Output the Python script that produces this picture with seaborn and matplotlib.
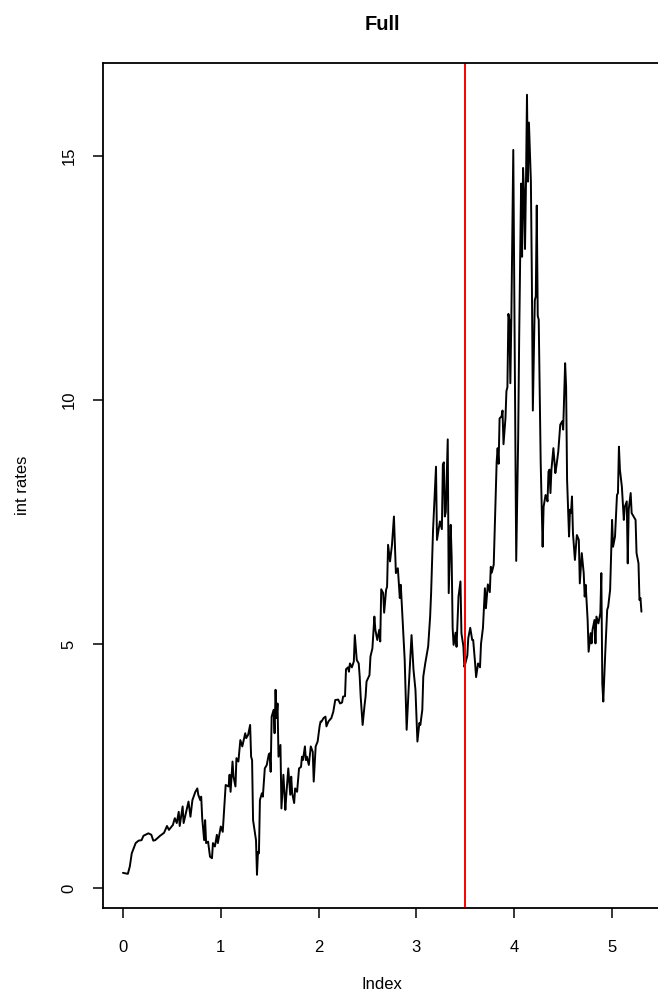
import matplotlib
matplotlib.use("Agg")
import matplotlib.pyplot as plt
import seaborn as sns

# values
idx = [0.00, 0.05, 0.07, 0.09, 0.13, 0.16, 0.19, 0.21, 0.26, 0.29, 0.31, 0.33, 0.38, 0.42, 0.45,
       0.47, 0.49, 0.51, 0.53, 0.55, 0.57, 0.58, 0.61, 0.62, 0.65, 0.67, 0.69, 0.71, 0.74, 0.76,
       0.77, 0.79, 0.80, 0.81, 0.83, 0.84, 0.85, 0.87, 0.89, 0.91, 0.92, 0.94, 0.96, 0.97, 1.00,
       1.02, 1.05, 1.08, 1.09, 1.10, 1.12, 1.13, 1.15, 1.16, 1.18, 1.20, 1.22, 1.25, 1.26, 1.28,
       1.30, 1.31, 1.32, 1.33, 1.35, 1.36, 1.37, 1.38, 1.39, 1.40, 1.42, 1.43, 1.45, 1.47, 1.49,
       1.50, 1.51, 1.52, 1.54, 1.55, 1.56, 1.57, 1.58, 1.59, 1.61, 1.62, 1.64, 1.66, 1.67, 1.69,
       1.71, 1.72, 1.73, 1.75, 1.76, 1.78, 1.80, 1.82, 1.83, 1.84, 1.86, 1.87, 1.88, 1.90, 1.92,
       1.94, 1.95, 1.97, 1.99, 2.01, 2.02, 2.03, 2.05, 2.07, 2.08, 2.10, 2.13, 2.15, 2.17, 2.20,
       2.22, 2.24, 2.25, 2.27, 2.28, 2.30, 2.31, 2.32, 2.34, 2.36, 2.37, 2.39, 2.41, 2.42, 2.43,
       2.45, 2.47, 2.48, 2.49, 2.52, 2.53, 2.55, 2.57, 2.58, 2.60, 2.62, 2.63, 2.64, 2.66, 2.67,
       2.69, 2.70, 2.71, 2.73, 2.75, 2.77, 2.79, 2.81, 2.83, 2.84, 2.86, 2.88, 2.90, 2.92, 2.95,
       2.97, 2.99, 3.01, 3.03, 3.04, 3.06, 3.07, 3.09, 3.12, 3.14, 3.15, 3.17, 3.20, 3.21, 3.24,
       3.26, 3.27, 3.28, 3.29, 3.30, 3.32, 3.33, 3.35, 3.36, 3.37, 3.38, 3.40, 3.41, 3.43, 3.45,
       3.46, 3.48, 3.49, 3.50, 3.52, 3.53, 3.55, 3.57, 3.58, 3.60, 3.61, 3.63, 3.65, 3.66, 3.68,
       3.70, 3.71, 3.73, 3.75, 3.76, 3.77, 3.79, 3.81, 3.82, 3.83, 3.84, 3.85, 3.87, 3.88, 3.89,
       3.91, 3.92, 3.93, 3.94, 3.95, 3.96, 3.97, 3.99, 4.02, 4.04, 4.05, 4.07, 4.08, 4.09, 4.10,
       4.11, 4.12, 4.13, 4.14, 4.15, 4.17, 4.18, 4.19, 4.21, 4.22, 4.23, 4.24, 4.25, 4.27, 4.29,
       4.30, 4.32, 4.33, 4.34, 4.35, 4.36, 4.37, 4.38, 4.40, 4.42, 4.43, 4.45, 4.47, 4.49, 4.50,
       4.52, 4.53, 4.54, 4.56, 4.57, 4.58, 4.59, 4.60, 4.62, 4.64, 4.66, 4.67, 4.69, 4.71, 4.72,
       4.73, 4.75, 4.76, 4.78, 4.79, 4.80, 4.82, 4.83, 4.84, 4.86, 4.88, 4.89, 4.90, 4.91, 4.93,
       4.95, 4.96, 4.98, 5.00, 5.01, 5.03, 5.05, 5.06, 5.07, 5.08, 5.10, 5.12, 5.13, 5.15, 5.16,
       5.17, 5.19, 5.20, 5.22, 5.24, 5.25, 5.27, 5.28, 5.29, 5.30]
rates = [0.31, 0.29, 0.44, 0.71, 0.92, 0.97, 0.98, 1.07, 1.12, 1.09, 0.97, 0.98, 1.07, 1.13, 1.27,
         1.19, 1.24, 1.29, 1.43, 1.33, 1.56, 1.27, 1.67, 1.33, 1.60, 1.77, 1.46, 1.80, 1.97, 2.04,
         1.91, 1.80, 1.87, 1.43, 0.98, 1.39, 0.92, 0.95, 0.64, 0.61, 0.92, 0.85, 1.09, 0.92, 1.26,
         1.15, 2.11, 2.08, 2.32, 1.97, 2.59, 2.28, 2.08, 2.66, 2.59, 3.03, 2.90, 3.17, 3.07, 3.14,
         3.34, 2.69, 2.62, 1.39, 1.12, 0.98, 0.27, 0.74, 0.71, 1.80, 1.94, 1.87, 2.45, 2.52, 2.73,
         2.76, 2.38, 3.51, 3.65, 3.17, 4.06, 3.48, 3.78, 2.69, 2.93, 1.63, 2.32, 1.60, 1.91, 2.45,
         1.91, 2.28, 1.94, 1.74, 2.04, 1.97, 2.45, 2.48, 2.69, 2.62, 2.90, 2.62, 2.69, 2.52, 2.90,
         2.79, 2.18, 2.90, 3.00, 3.31, 3.41, 3.41, 3.48, 3.51, 3.31, 3.41, 3.48, 3.61, 3.85, 3.86,
         3.78, 3.80, 3.92, 3.93, 4.48, 4.52, 4.43, 4.60, 4.52, 4.64, 5.18, 4.67, 4.60, 4.33, 3.92,
         3.34, 3.75, 3.92, 4.23, 4.36, 4.74, 4.91, 5.56, 5.29, 5.08, 5.29, 5.05, 6.12, 6.04, 5.64,
         6.11, 6.17, 7.03, 6.69, 7.03, 7.61, 6.45, 6.55, 5.94, 6.21, 5.46, 4.67, 3.24, 4.06, 5.18,
         4.47, 4.06, 3.00, 3.38, 3.34, 3.65, 4.33, 4.60, 4.95, 5.56, 6.04, 7.34, 8.63, 7.13, 7.51,
         7.35, 8.67, 8.72, 7.61, 7.70, 9.19, 6.04, 7.44, 6.78, 5.33, 4.98, 5.23, 4.94, 5.97, 6.28,
         5.22, 4.95, 4.53, 4.60, 4.76, 5.12, 5.33, 5.08, 5.08, 4.60, 4.32, 4.60, 4.52, 5.00, 5.33,
         6.14, 5.73, 6.22, 6.06, 6.58, 6.46, 6.62, 8.00, 8.73, 9.01, 8.69, 9.62, 9.66, 9.78, 9.09,
         9.62, 10.18, 10.26, 11.76, 11.64, 10.34, 11.64, 15.12, 6.70, 9.21, 11.23, 14.43, 12.93, 14.75, 14.23,
         13.09, 14.47, 16.25, 14.47, 15.68, 14.47, 12.45, 9.78, 12.04, 12.12, 13.98, 11.72, 11.64, 8.73, 6.99,
         7.81, 8.05, 8.02, 7.92, 8.53, 8.57, 8.09, 8.57, 9.01, 8.50, 8.63, 8.94, 9.49, 9.56, 9.39,
         10.75, 10.27, 8.36, 7.20, 7.75, 7.68, 8.02, 7.27, 6.72, 7.23, 7.13, 6.24, 6.86, 6.45, 5.97,
         6.21, 5.49, 4.84, 5.22, 5.01, 5.29, 5.49, 5.01, 5.56, 5.42, 5.63, 6.45, 4.19, 3.82, 4.81,
         5.70, 5.76, 6.11, 7.54, 6.99, 7.20, 8.05, 8.09, 9.04, 8.57, 8.22, 7.54, 7.81, 7.92, 6.65,
         7.75, 8.09, 7.68, 7.61, 7.54, 6.86, 6.65, 5.90, 5.94, 5.66]
split_at = 3.5
x_ticks = [0, 1, 2, 3, 4, 5]
y_ticks = [0, 5, 10, 15]

sns.set_theme(style="ticks")
plt.rcParams['font.family'] = ['Liberation Sans', 'DejaVu Sans']
plt.rcParams['text.color'] = 'black'
plt.rcParams['axes.labelcolor'] = 'black'

fig = plt.figure(figsize=(6.58, 10.02), dpi=100)
ax = fig.add_axes([103 / 658, 94 / 1002, 558 / 658, 845 / 1002])

sns.lineplot(x=idx, y=rates, ax=ax, color='black', linewidth=1.4,
             estimator=None, sort=False)
ax.axvline(split_at, color='red', linewidth=1.4)

ax.set_xlim(-0.204, 5.50)
ax.set_ylim(-0.41, 16.9)
ax.set_xticks(x_ticks)
ax.set_yticks(y_ticks)

for s in ax.spines.values():
    s.set_visible(True)
    s.set_linewidth(1.3)
    s.set_color('black')

ax.tick_params(axis='both', direction='out', length=7, width=1.1, color='black',
               labelsize=12, labelcolor='black')
ax.tick_params(axis='x', pad=16)
ax.tick_params(axis='y', pad=12, labelrotation=90)
for lab in ax.get_yticklabels():
    lab.set_verticalalignment('center')

ax.set_xlabel('Index', fontsize=12, va='center', color='black')
ax.xaxis.set_label_coords(0.5, -0.091)
ax.set_ylabel('int rates', fontsize=12, va='center', color='black')
ax.yaxis.set_label_coords(-0.145, 0.5)

fig.text(382 / 658, 1 - 25 / 1002, 'Full', ha='center', va='center',
         fontsize=14.4, fontweight='bold', color='black')

fig.savefig('out.png', dpi=100)
